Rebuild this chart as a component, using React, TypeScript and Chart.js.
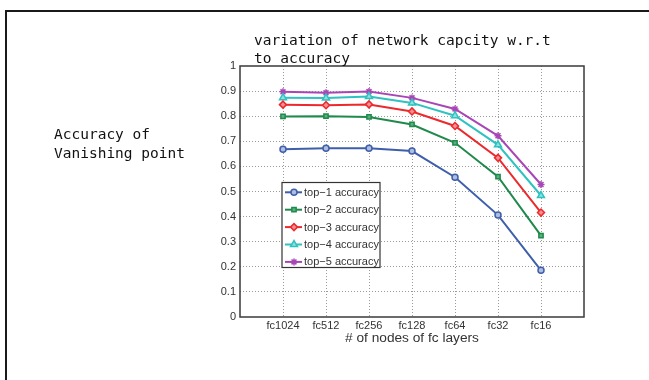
import React, { useEffect, useRef } from "react";
import { Chart, registerables } from "chart.js";
import { drawPoint } from "chart.js/helpers";

Chart.register(...registerables);

const categories = ["fc1024", "fc512", "fc256", "fc128", "fc64", "fc32", "fc16"];
const top1 = [0.668, 0.672, 0.672, 0.661, 0.557, 0.406, 0.186];
const top2 = [0.799, 0.8, 0.797, 0.767, 0.694, 0.559, 0.324];
const top3 = [0.846, 0.844, 0.847, 0.819, 0.761, 0.634, 0.416];
const top4 = [0.874, 0.873, 0.878, 0.853, 0.802, 0.686, 0.484];
const top5 = [0.897, 0.893, 0.898, 0.873, 0.829, 0.722, 0.528];
const seriesLabels = [
  "top\u22121 accuracy",
  "top\u22122 accuracy",
  "top\u22123 accuracy",
  "top\u22124 accuracy",
  "top\u22125 accuracy",
];
const yTicks = [0, 0.1, 0.2, 0.3, 0.4, 0.5, 0.6, 0.7, 0.8, 0.9, 1];

const styles = [
  { color: "#3f5fab", fill: "#aebde0", pointStyle: "circle", radius: 3 },
  { color: "#1f8a4c", fill: "#5cb07f", pointStyle: "rect", radius: 3 },
  { color: "#ec2a2e", fill: "#f48f92", pointStyle: "rectRot", radius: 3.5 },
  { color: "#2ec2c0", fill: "#8fe0de", pointStyle: "triangle", radius: 4 },
  { color: "#a846b6", fill: "#a846b6", pointStyle: "star", radius: 3.5 },
];

const boxPlugin = {
  id: "boxPlugin",
  beforeDatasetsDraw(chart: any) {
    const { ctx, chartArea } = chart;
    ctx.save();
    ctx.strokeStyle = "#3a3a3a";
    ctx.lineWidth = 1.5;
    ctx.strokeRect(chartArea.left, chartArea.top, chartArea.right - chartArea.left, chartArea.bottom - chartArea.top);
    ctx.restore();
  },
};

const legendPlugin = {
  id: "innerLegend",
  afterDatasetsDraw(chart: any) {
    const { ctx, chartArea } = chart;
    const x0 = chartArea.left + 42;
    const y0 = chartArea.top + 116.5;
    const w = 98;
    const h = 85;
    ctx.save();
    ctx.fillStyle = "#ffffff";
    ctx.fillRect(x0, y0, w, h);
    ctx.strokeStyle = "#333333";
    ctx.lineWidth = 1.2;
    ctx.strokeRect(x0, y0, w, h);
    chart.data.datasets.forEach((ds: any, i: number) => {
      const cy = y0 + 9.8 + i * 17.4;
      ctx.strokeStyle = ds.borderColor;
      ctx.lineWidth = 2;
      ctx.beginPath();
      ctx.moveTo(x0 + 3, cy);
      ctx.lineTo(x0 + 20, cy);
      ctx.stroke();
      ctx.fillStyle = ds.pointBackgroundColor;
      ctx.strokeStyle = ds.borderColor;
      ctx.lineWidth = ds.pointBorderWidth;
      drawPoint(ctx, { pointStyle: ds.pointStyle, radius: ds.pointRadius, rotation: 0, borderWidth: ds.pointBorderWidth }, x0 + 12, cy);
      ctx.fillStyle = "#333333";
      ctx.font = "11px 'Liberation Sans', Arial, sans-serif";
      ctx.textBaseline = "middle";
      ctx.textAlign = "left";
      ctx.fillText(ds.label, x0 + 22, cy + 0.5);
    });
    ctx.restore();
  },
};

export default function App() {
  const ref = useRef<HTMLCanvasElement>(null);
  useEffect(() => {
    if (!ref.current) return;
    const seriesValues = [top1, top2, top3, top4, top5];
    const chart = new Chart(ref.current, {
      type: "line",
      data: {
        datasets: seriesValues.map((vals, si) => ({
          label: seriesLabels[si],
          data: vals.map((v, i) => ({ x: i + 1, y: v })),
          borderColor: styles[si].color,
          backgroundColor: styles[si].color,
          pointBackgroundColor: styles[si].fill,
          pointBorderColor: styles[si].color,
          pointStyle: styles[si].pointStyle as any,
          pointRadius: styles[si].radius,
          pointBorderWidth: 1.5,
          borderWidth: 2,
          tension: 0,
          fill: false,
        })),
      },
      options: {
        animation: false,
        responsive: false,
        devicePixelRatio: 1,
        layout: { padding: { left: 200, right: 65, top: 66, bottom: 0 } },
        plugins: { legend: { display: false }, tooltip: { enabled: false }, title: { display: false } },
        scales: {
          x: {
            type: "linear",
            min: 0,
            max: 8,
            afterFit: (s: any) => {
              s.height = 63;
            },
            afterBuildTicks: (s: any) => {
              s.ticks = [0, 1, 2, 3, 4, 5, 6, 7, 8].map((v) => ({ value: v }));
            },
            ticks: {
              autoSkip: false,
              maxRotation: 0,
              padding: 2,
              color: "#333",
              font: { family: "'Liberation Sans', Arial, sans-serif", size: 11 },
              callback: (v: any) => categories[Number(v) - 1] ?? "",
            },
            grid: {
              drawTicks: false,
              color: (c: any) => (c.tick && (c.tick.value === 0 || c.tick.value === 8) ? "rgba(0,0,0,0)" : "#9a9a9a"),
              lineWidth: 1,
            },
            border: { display: false, dash: [1, 2] },
          },
          y: {
            type: "linear",
            min: 0,
            max: 1,
            afterFit: (s: any) => {
              s.width = 40;
            },
            afterBuildTicks: (s: any) => {
              s.ticks = yTicks.map((v) => ({ value: v }));
            },
            ticks: {
              padding: 4,
              color: "#333",
              font: { family: "'Liberation Sans', Arial, sans-serif", size: 11 },
              callback: (v: any) => String(Number(Number(v).toFixed(1))),
            },
            grid: {
              drawTicks: false,
              color: (c: any) => (c.tick && (c.tick.value === 0 || c.tick.value === 1) ? "rgba(0,0,0,0)" : "#9a9a9a"),
              lineWidth: 1,
            },
            border: { display: false, dash: [1, 2] },
          },
        },
      },
      plugins: [boxPlugin, legendPlugin],
    });
    return () => chart.destroy();
  }, []);

  const mono = "'DejaVu Sans Mono', 'Liberation Mono', monospace";
  return (
    <div style={{ position: "fixed", left: 0, top: 0, width: 649, height: 380, background: "#fff", overflow: "hidden" }}>
      <div
        style={{
          position: "absolute",
          left: 5,
          top: 10,
          width: 660,
          height: 400,
          borderLeft: "2px solid #1a1a1a",
          borderTop: "2px solid #1a1a1a",
        }}
      />
      <canvas ref={ref} width={649} height={380} style={{ position: "absolute", left: 0, top: 0 }} />
      <div
        style={{
          position: "absolute",
          left: 254,
          top: 31,
          fontFamily: mono,
          fontSize: 14.5,
          lineHeight: "18px",
          color: "#111",
          whiteSpace: "pre",
        }}
      >
        {"variation of network capcity w.r.t\nto accuracy"}
      </div>
      <div
        style={{
          position: "absolute",
          left: 54,
          top: 124.5,
          fontFamily: mono,
          fontSize: 14.5,
          lineHeight: "19px",
          color: "#111",
          whiteSpace: "pre",
        }}
      >
        {"Accuracy of\nVanishing point"}
      </div>
      <div
        style={{
          position: "absolute",
          left: 312,
          width: 200,
          top: 329,
          textAlign: "center",
          fontFamily: "'Liberation Sans', Arial, sans-serif",
          fontSize: 13.7,
          lineHeight: "18px",
          color: "#333",
        }}
      >
        # of nodes of fc layers
      </div>
    </div>
  );
}
